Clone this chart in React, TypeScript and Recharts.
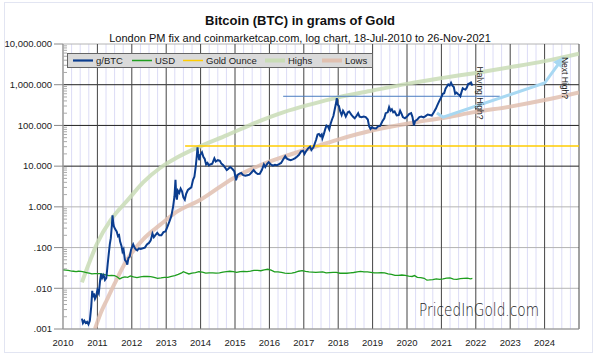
import { ComposedChart, Line, XAxis, YAxis, ReferenceLine, ReferenceDot } from 'recharts'

// ---- data ----
const yearTicks = [2010, 2011, 2012, 2013, 2014, 2015, 2016, 2017, 2018, 2019, 2020, 2021, 2022, 2023, 2024]
const majorTicks = [0.001, 0.01, 0.1, 1, 10, 100, 1000, 10000]
const tickLabels = ['.001', '.010', '.100', '1.000', '10.000', '100.000', '1,000.000', '10,000.000']

// g/BTC: [year, grams of gold per bitcoin]
const btcGold: [number, number][] = [
  [2010.55, 0.0018], [2010.58, 0.0014], [2010.62, 0.0016], [2010.66, 0.0014], [2010.7, 0.0015], [2010.74, 0.0013],
  [2010.78, 0.0016], [2010.82, 0.0035], [2010.85, 0.0087], [2010.87, 0.006], [2010.9, 0.0075], [2010.93, 0.0055],
  [2010.96, 0.0062], [2011.0, 0.009], [2011.04, 0.0075], [2011.08, 0.016], [2011.11, 0.023], [2011.14, 0.018],
  [2011.18, 0.021], [2011.22, 0.016], [2011.26, 0.018], [2011.3, 0.04], [2011.33, 0.07], [2011.36, 0.12],
  [2011.39, 0.17], [2011.42, 0.35], [2011.44, 0.62], [2011.46, 0.4], [2011.48, 0.33], [2011.52, 0.28],
  [2011.56, 0.25], [2011.6, 0.19], [2011.63, 0.2], [2011.66, 0.14], [2011.7, 0.11], [2011.73, 0.08],
  [2011.76, 0.09], [2011.8, 0.05], [2011.84, 0.045], [2011.87, 0.038], [2011.9, 0.055], [2011.94, 0.06],
  [2011.98, 0.09], [2012.04, 0.12], [2012.08, 0.1], [2012.12, 0.09], [2012.16, 0.085], [2012.2, 0.095],
  [2012.26, 0.093], [2012.32, 0.096], [2012.38, 0.1], [2012.44, 0.12], [2012.5, 0.13], [2012.55, 0.15],
  [2012.6, 0.22], [2012.64, 0.18], [2012.68, 0.2], [2012.74, 0.23], [2012.8, 0.2], [2012.86, 0.2],
  [2012.92, 0.24], [2012.98, 0.25], [2013.04, 0.33], [2013.1, 0.45], [2013.15, 0.6], [2013.2, 1.0],
  [2013.24, 1.8], [2013.27, 4.6], [2013.29, 2.0], [2013.31, 1.5], [2013.34, 2.5], [2013.38, 2.2],
  [2013.42, 2.8], [2013.46, 2.4], [2013.5, 1.7], [2013.54, 1.5], [2013.58, 2.1], [2013.63, 2.6],
  [2013.68, 2.8], [2013.73, 3.0], [2013.78, 4.6], [2013.82, 5.5], [2013.86, 10], [2013.89, 18],
  [2013.91, 29], [2013.93, 20], [2013.96, 14], [2013.99, 19], [2014.04, 22], [2014.08, 17],
  [2014.12, 15], [2014.16, 11], [2014.2, 12], [2014.24, 10.5], [2014.28, 11], [2014.34, 11.5],
  [2014.4, 15.5], [2014.44, 13], [2014.5, 14], [2014.56, 13.5], [2014.6, 11.7], [2014.66, 10.5],
  [2014.72, 9], [2014.76, 8], [2014.8, 8.5], [2014.86, 9.5], [2014.92, 8.6], [2014.98, 7.5],
  [2015.03, 4.5], [2015.07, 6], [2015.12, 6.5], [2015.18, 6.8], [2015.24, 6], [2015.3, 5.8],
  [2015.36, 6], [2015.42, 6.2], [2015.48, 7], [2015.54, 8], [2015.6, 7], [2015.66, 6.4],
  [2015.72, 6.5], [2015.78, 8], [2015.84, 11], [2015.88, 9.5], [2015.94, 11.5], [2015.98, 12.5],
  [2016.04, 11], [2016.1, 10.3], [2016.16, 10.8], [2016.22, 10.5], [2016.28, 11.2], [2016.34, 12],
  [2016.4, 14.5], [2016.46, 17.5], [2016.5, 15.5], [2016.56, 14.5], [2016.62, 14], [2016.68, 14.6],
  [2016.74, 15.5], [2016.8, 17], [2016.86, 19], [2016.92, 23], [2016.98, 24], [2017.02, 20],
  [2017.06, 23], [2017.12, 27], [2017.18, 30], [2017.22, 25], [2017.28, 29], [2017.32, 36],
  [2017.36, 45], [2017.4, 60], [2017.44, 62], [2017.48, 55], [2017.52, 60], [2017.54, 48],
  [2017.58, 60], [2017.62, 80], [2017.66, 100], [2017.7, 95], [2017.74, 80], [2017.78, 110],
  [2017.82, 140], [2017.86, 170], [2017.9, 250], [2017.93, 330], [2017.96, 470], [2017.98, 330],
  [2018.02, 300], [2018.06, 220], [2018.1, 180], [2018.14, 230], [2018.18, 200], [2018.22, 165],
  [2018.28, 210], [2018.32, 220], [2018.38, 185], [2018.44, 160], [2018.48, 150], [2018.54, 175],
  [2018.58, 200], [2018.62, 165], [2018.68, 160], [2018.74, 165], [2018.8, 160], [2018.86, 140],
  [2018.9, 95], [2018.94, 82], [2018.98, 90], [2019.04, 85], [2019.1, 84], [2019.16, 95],
  [2019.22, 97], [2019.28, 125], [2019.34, 150], [2019.38, 200], [2019.44, 210], [2019.48, 280],
  [2019.52, 230], [2019.56, 250], [2019.6, 210], [2019.64, 220], [2019.7, 176], [2019.76, 180],
  [2019.8, 230], [2019.84, 195], [2019.88, 160], [2019.94, 150], [2020.0, 165], [2020.06, 190],
  [2020.12, 200], [2020.16, 160], [2020.2, 100], [2020.24, 130], [2020.3, 140], [2020.36, 160],
  [2020.42, 165], [2020.48, 158], [2020.54, 170], [2020.6, 185], [2020.66, 180], [2020.72, 175],
  [2020.78, 210], [2020.84, 260], [2020.88, 310], [2020.94, 400], [2021.0, 500], [2021.04, 600],
  [2021.08, 620], [2021.12, 800], [2021.16, 900], [2021.2, 1020], [2021.24, 960], [2021.28, 1120],
  [2021.32, 950], [2021.36, 880], [2021.4, 600], [2021.44, 640], [2021.48, 590], [2021.52, 560],
  [2021.55, 520], [2021.58, 640], [2021.62, 820], [2021.66, 780], [2021.7, 760], [2021.74, 850],
  [2021.78, 1050], [2021.82, 1080], [2021.86, 1140], [2021.9, 950],
]

// USD: grams of gold per dollar
const usdGold: [number, number][] = [
  [2010.0, 0.0285], [2010.08, 0.028], [2010.15, 0.0275], [2010.22, 0.0268], [2010.3, 0.0262], [2010.38, 0.0256],
  [2010.45, 0.0262], [2010.52, 0.026], [2010.6, 0.0253], [2010.68, 0.0244], [2010.76, 0.0236], [2010.84, 0.0226],
  [2010.92, 0.0228], [2011.0, 0.023], [2011.08, 0.0228], [2011.16, 0.022], [2011.25, 0.0214], [2011.33, 0.0205],
  [2011.41, 0.0208], [2011.5, 0.0205], [2011.58, 0.019], [2011.65, 0.017], [2011.72, 0.0182], [2011.8, 0.019],
  [2011.88, 0.0185], [2011.96, 0.02], [2012.05, 0.019], [2012.15, 0.0182], [2012.25, 0.019], [2012.35, 0.0195],
  [2012.45, 0.0196], [2012.55, 0.0193], [2012.65, 0.0185], [2012.75, 0.0176], [2012.85, 0.018], [2012.95, 0.0186],
  [2013.05, 0.0185], [2013.15, 0.0195], [2013.25, 0.0205], [2013.35, 0.022], [2013.45, 0.024], [2013.5, 0.0255],
  [2013.58, 0.024], [2013.66, 0.0225], [2013.75, 0.0236], [2013.85, 0.0242], [2013.95, 0.0255], [2014.05, 0.0248],
  [2014.15, 0.0235], [2014.25, 0.024], [2014.35, 0.024], [2014.45, 0.0236], [2014.55, 0.0238], [2014.65, 0.025],
  [2014.75, 0.0256], [2014.85, 0.0262], [2014.95, 0.0258], [2015.05, 0.0245], [2015.15, 0.0258], [2015.25, 0.026],
  [2015.35, 0.0258], [2015.45, 0.0263], [2015.55, 0.0275], [2015.65, 0.0276], [2015.75, 0.027], [2015.85, 0.0282],
  [2015.95, 0.0293], [2016.05, 0.0278], [2016.15, 0.0254], [2016.25, 0.0252], [2016.35, 0.0245], [2016.45, 0.0237],
  [2016.55, 0.0232], [2016.65, 0.0236], [2016.75, 0.0245], [2016.85, 0.0262], [2016.95, 0.027], [2017.05, 0.026],
  [2017.15, 0.0252], [2017.25, 0.025], [2017.35, 0.0247], [2017.45, 0.025], [2017.55, 0.0254], [2017.65, 0.024],
  [2017.75, 0.0242], [2017.85, 0.0245], [2017.95, 0.0246], [2018.05, 0.0234], [2018.15, 0.0236], [2018.25, 0.0234],
  [2018.35, 0.024], [2018.45, 0.0244], [2018.55, 0.0252], [2018.65, 0.026], [2018.75, 0.0254], [2018.85, 0.0252],
  [2018.95, 0.0246], [2019.05, 0.024], [2019.15, 0.024], [2019.25, 0.0242], [2019.35, 0.024], [2019.45, 0.0225],
  [2019.55, 0.022], [2019.65, 0.0207], [2019.75, 0.0208], [2019.85, 0.0212], [2019.95, 0.0208], [2020.05, 0.02],
  [2020.15, 0.0195], [2020.22, 0.0205], [2020.3, 0.0185], [2020.4, 0.0182], [2020.5, 0.0176], [2020.58, 0.0158],
  [2020.65, 0.016], [2020.75, 0.0164], [2020.85, 0.017], [2020.95, 0.0166], [2021.05, 0.017], [2021.15, 0.0178],
  [2021.25, 0.018], [2021.35, 0.0168], [2021.45, 0.0166], [2021.55, 0.0173], [2021.65, 0.0175], [2021.75, 0.0177],
  [2021.85, 0.017], [2021.9, 0.0174],
]

const goldOunce: [number, number][] = [[2013.55, 31.1], [2025, 31.1]]
const halvingHigh: [number, number][] = [[2016.4, 520], [2022.7, 520]]

const highs: [number, number][] = [
  [2010.55, 0.014], [2010.75, 0.04], [2011.0, 0.13], [2011.37, 0.45], [2011.6, 0.8], [2011.86, 1.4],
  [2012.33, 4.0], [2012.82, 9], [2013.3, 16], [2013.92, 29], [2014.77, 58], [2015.73, 130],
  [2016.4, 210], [2017.2, 330], [2018.0, 490], [2019.0, 720], [2020.0, 1050], [2021.0, 1450],
  [2022.0, 1950], [2023.0, 2700], [2024.0, 3800], [2025.0, 5800],
]

const lows: [number, number][] = [
  [2010.93, 0.001], [2011.1, 0.0025], [2011.28, 0.0053], [2011.5, 0.013], [2011.86, 0.05], [2012.33, 0.16],
  [2012.82, 0.36], [2013.3, 0.75], [2014.0, 1.5], [2014.94, 5.0], [2015.73, 10.5], [2016.5, 18],
  [2017.27, 29], [2018.0, 45], [2019.04, 77], [2020.3, 122], [2021.0, 150], [2022.0, 215],
  [2023.0, 290], [2024.0, 420], [2025.0, 650],
]

const nextHighArrow: [number, number][] = [[2020.87, 203], [2021.05, 160], [2024.0, 1100], [2024.53, 4530]]

const legendItems = [
  { name: 'g/BTC', color: '#0b3d8f', width: 2.2 },
  { name: 'USD', color: '#1f9e1f', width: 1.5 },
  { name: 'Gold Ounce', color: '#ffcc00', width: 1.5 },
  { name: 'Highs', color: '#c9dcb6', width: 4 },
  { name: 'Lows', color: '#e0c0b0', width: 4 },
]

const toRows = (pts: [number, number][]) => pts.map(([x, v]) => ({ x, v }))

const quarters: number[] = []
for (let y = 2010; y < 2025; y++) [0.25, 0.5, 0.75].forEach((q) => quarters.push(y + q))

const minorTicks: number[] = []
for (let e = -3; e < 4; e++) for (let m = 2; m < 10; m++) minorTicks.push(m * Math.pow(10, e))
const allYTicks = [...majorTicks, ...minorTicks].sort((a, b) => a - b)

const FONT = '"Liberation Sans", Arial, sans-serif'

function YTick(props: any) {
  const { x, y, payload } = props
  const idx = majorTicks.indexOf(payload.value)
  const ax = x + 11
  if (idx < 0) {
    return <line x1={ax} x2={ax + 4} y1={y} y2={y} stroke="#aaa" strokeWidth={1} />
  }
  return (
    <g>
      <line x1={ax - 9} x2={ax} y1={y} y2={y} stroke="#888" strokeWidth={1} />
      <text x={x} y={y} dy="0.35em" textAnchor="end" fontSize={9.5} fill="#222" fontFamily={FONT}>
        {tickLabels[idx]}
      </text>
    </g>
  )
}

let prevArrowPt: { x: number; y: number } | null = null
function ArrowDot(props: any) {
  const { cx, cy, index } = props
  const prev = prevArrowPt
  prevArrowPt = { x: cx, y: cy }
  if (index !== nextHighArrow.length - 1 || !prev) return <g key={`a${index}`} />
  const ang = (Math.atan2(cy - prev.y, cx - prev.x) * 180) / Math.PI
  return (
    <polygon key={`a${index}`} points="2,0 -9,-5.5 -9,5.5" fill="#a8d8f2"
      transform={`translate(${cx},${cy}) rotate(${ang})`} />
  )
}

function RotLabel(text: string) {
  return (p: any) => (
    <text x={p.cx} y={p.cy} transform={`rotate(90 ${p.cx} ${p.cy})`} fontSize={8.5}
      fill="#222" fontFamily={FONT}>{text}</text>
  )
}

export default function App() {
  return (
    <div style={{ position: 'absolute', left: 0, top: 0, width: 601, height: 356, background: '#fff' }}>
      <ComposedChart width={601} height={356} margin={{ top: 44, right: 22, bottom: 0, left: 0 }}>
        <XAxis dataKey="x" type="number" domain={[2010, 2025]} allowDataOverflow ticks={yearTicks}
          interval={0} height={27} tickLine={false} tickSize={4} tickMargin={6} stroke="#999"
          tick={{ fontSize: 9.5, fill: '#222', fontFamily: FONT }} />
        <YAxis type="number" scale="log" domain={[0.001, 10000]} allowDataOverflow ticks={allYTicks}
          interval={0} width={63} tickLine={false} tickSize={8} tickMargin={3} stroke="#999"
          tick={<YTick />} />

        {quarters.map((q) => (
          <ReferenceLine key={`q${q}`} x={q} stroke="#dcdcf6" strokeWidth={1} />
        ))}
        {majorTicks.map((t) => (
          <ReferenceLine key={`h${t}`} y={t} stroke={t >= 10 && t <= 1000 ? '#222' : '#b4b4b4'} strokeWidth={1} />
        ))}
        {[...yearTicks, 2025].map((yr) => (
          <ReferenceLine key={`y${yr}`} x={yr} stroke={yr === 2010 ? '#999' : '#444'} strokeWidth={1} />
        ))}

        <Line data={toRows(highs)} dataKey="v" type="monotone" stroke="#c9dcb6" strokeWidth={4}
          strokeOpacity={0.85} dot={false} isAnimationActive={false} />
        <Line data={toRows(lows)} dataKey="v" type="monotone" stroke="#e0c0b0" strokeWidth={4}
          strokeOpacity={0.85} dot={false} isAnimationActive={false} />
        <Line data={toRows(goldOunce)} dataKey="v" stroke="#ffcc00" strokeWidth={1.5}
          dot={false} isAnimationActive={false} />
        <Line data={toRows(halvingHigh)} dataKey="v" stroke="#4a7cc0" strokeWidth={1}
          dot={false} isAnimationActive={false} />
        <Line data={toRows(usdGold)} dataKey="v" stroke="#1f9e1f" strokeWidth={1.3}
          dot={false} isAnimationActive={false} />
        <Line data={toRows(nextHighArrow)} dataKey="v" stroke="#a8d8f2" strokeWidth={3}
          dot={ArrowDot} isAnimationActive={false} />
        <Line data={toRows(btcGold)} dataKey="v" stroke="#0b3d8f" strokeWidth={2}
          dot={false} isAnimationActive={false} />

        <ReferenceDot x={2022.03} y={2800} r={0} shape={RotLabel('Halving High?')} />
        <ReferenceDot x={2024.5} y={4800} r={0} shape={RotLabel('Next High?')} />
      </ComposedChart>

      <svg width={601} height={356} style={{ position: 'absolute', left: 0, top: 0, pointerEvents: 'none' }}>
        <rect x={4.5} y={2.5} width={588} height={350} fill="none" stroke="#e2e5f2" />
        <text x={300} y={25} textAnchor="middle" fontSize={13} fontWeight="bold" fill="#111" fontFamily={FONT}>
          Bitcoin (BTC) in grams of Gold
        </text>
        <text x={300} y={42} textAnchor="middle" fontSize={11} fill="#111" fontFamily={FONT}>
          London PM fix and coinmarketcap.com, log chart, 18-Jul-2010 to 26-Nov-2021
        </text>

        <rect x={67.5} y={53.5} width={305} height={14} fill="#dadada" stroke="#666" />
        {legendItems.map((it, i) => {
          const lx = [73, 132, 183, 265, 322][i]
          return (
            <g key={it.name}>
              <line x1={lx} x2={lx + 20} y1={60.5} y2={60.5} stroke={it.color} strokeWidth={it.width} />
              <text x={lx + 23} y={64} fontSize={9.5} fill="#222" fontFamily={FONT}>{it.name}</text>
            </g>
          )
        })}

        <text x={419} y={316} fontSize={17} fill="#222" fontFamily='"DejaVu Sans", sans-serif' fontWeight={200}
          textLength={120} lengthAdjust="spacingAndGlyphs">
          PricedInGold.com
        </text>
      </svg>
    </div>
  )
}
